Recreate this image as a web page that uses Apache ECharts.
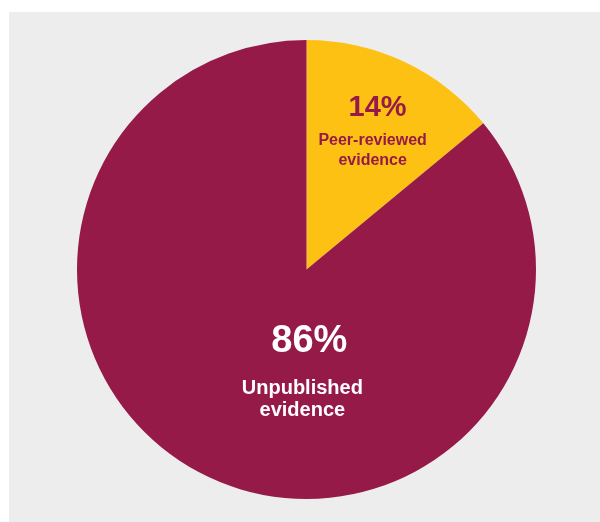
<!DOCTYPE html>
<html>
<head>
<meta charset="utf-8">
<script src="https://cdn.jsdelivr.net/npm/echarts@6/dist/echarts.min.js"></script>
<style>
html,body{margin:0;padding:0;background:#fff;}
#chart{width:600px;height:522px;}
</style>
</head>
<body>
<div id="chart"></div>
<script>
var categories = ['Peer-reviewed evidence', 'Unpublished evidence'];
var values = [14, 86];
var colors = ['#fdc114', '#961a48'];
var labelColors = ['#961a48', '#ffffff'];
var labelOffsets = [[16, -35.5], [46, -12]];
var pctSizes = [29, 38];
var pctLineHeights = [46, 71];
var pctPadLeft = [10, 14];
var nameSizes = [16, 20];
var nameLineHeights = [19.5, 22.7];

var chart = echarts.init(document.getElementById('chart'), null, {renderer: 'canvas'});
var data = categories.map(function (c, i) {
  return {
    name: c,
    value: values[i],
    itemStyle: {color: colors[i]},
    label: {
      offset: labelOffsets[i],
      color: labelColors[i],
      rich: {
        p: {fontSize: pctSizes[i], fontWeight: 'bold', color: labelColors[i], fontFamily: 'Liberation Sans, Arial, sans-serif', lineHeight: pctLineHeights[i], align: 'center', padding: [0, 0, 0, pctPadLeft[i]]},
        n: {fontSize: nameSizes[i], fontWeight: 'bold', color: labelColors[i], fontFamily: 'Liberation Sans, Arial, sans-serif', lineHeight: nameLineHeights[i], align: 'center'}
      }
    }
  };
});

chart.setOption({
  backgroundColor: '#ffffff',
  animation: false,
  graphic: [{
    type: 'rect', z: -10, silent: true,
    shape: {x: 9, y: 12, width: 600, height: 520},
    style: {fill: '#ededed'}
  }],
  series: [{
    type: 'pie',
    center: [306.5, 269.5],
    radius: [0, 229.5],
    startAngle: 90,
    clockwise: true,
    label: {
      show: true,
      position: 'inside',
      formatter: function (p) {
        var parts = p.name.split(' ');
        return '{p|' + p.value + '%}\n' + parts.map(function (s) { return '{n|' + s + '}'; }).join('\n');
      }
    },
    labelLine: {show: false},
    emphasis: {disabled: true},
    data: data
  }]
});
</script>
</body>
</html>
